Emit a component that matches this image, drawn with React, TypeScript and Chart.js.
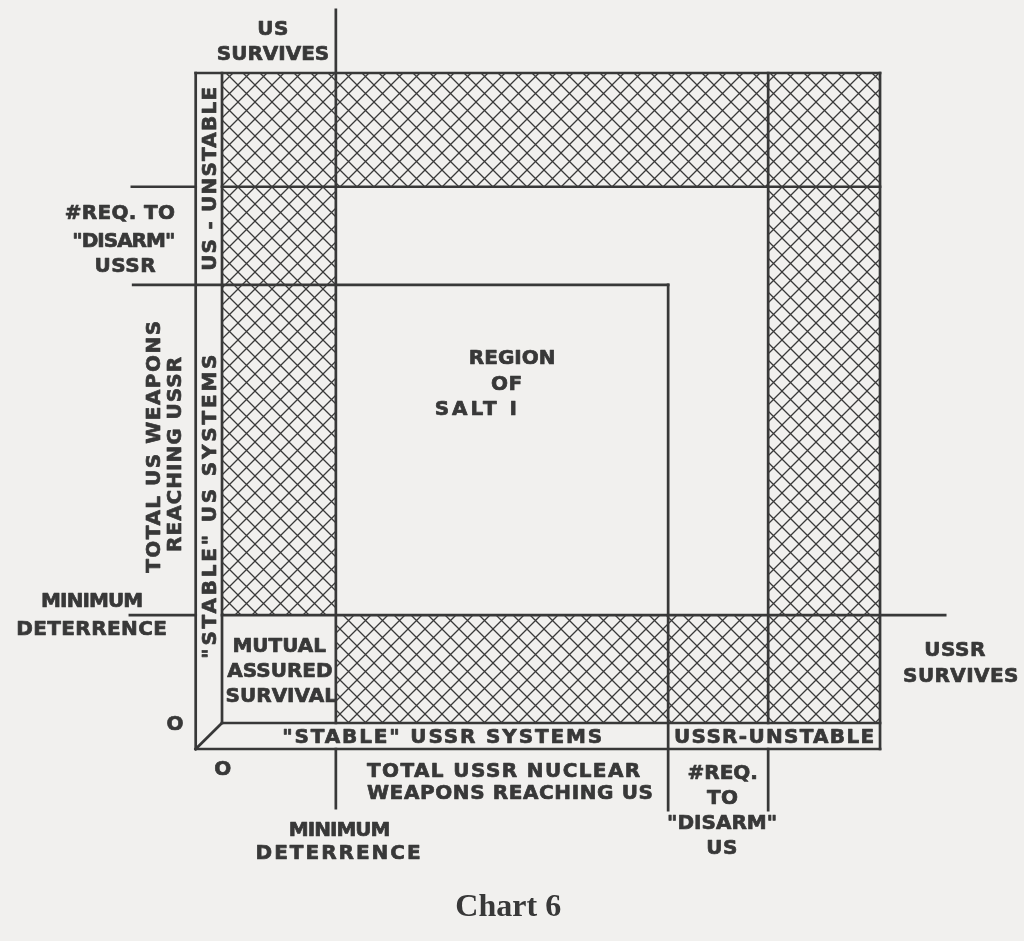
import React, { useEffect, useRef } from "react";
import { Chart, registerables } from "chart.js";

Chart.register(...registerables);

// Thresholds along each axis (0 = origin, 100 = frame edge)
// x: total USSR weapons reaching US
const xOrigin = 0;
const xMinDeterrence = 17.3;
const xSalt = 67.8;
const xDisarmUS = 83;
const xMax = 100;
// y: total US weapons reaching USSR
const yOrigin = 0;
const yMinDeterrence = 16.6;
const ySalt = 67.4;
const yDisarmUSSR = 82.5;
const yMax = 100;
// depth of the "stable systems" strips
const stripDepth = -4;

// extents of the guide lines outside the frame
const guideTop = 109.7;
const guideBottomMin = -13.1;
const guideBottom = -13.4;
const guideLeft = [-13.7, -13.5, -14.0];
const guideRight = 109.9;

const INK = "#383838";
const PAPER = "#f1f0ee";

type Label = { text: string; x: number; y: number; rot?: boolean; ls?: number; serif?: boolean };

const labels: Label[] = [
  { text: "US", x: 7.75, y: 106.9 },
  { text: "SURVIVES", x: 7.75, y: 103.1, ls: 0 },
  { text: "#REQ. TO", x: -15.5, y: 78.6, ls: 0.3 },
  { text: "\"DISARM\"", x: -15.0, y: 74.3, ls: -1 },
  { text: "USSR", x: -14.7, y: 70.5 },
  { text: "MINIMUM", x: -19.8, y: 18.9, ls: -0.9 },
  { text: "DETERRENCE", x: -19.8, y: 14.6, ls: 0.4 },
  { text: "TOTAL US WEAPONS", x: -10.6, y: 42.6, rot: true, ls: 1.5 },
  { text: "REACHING USSR", x: -7.4, y: 41.4, rot: true, ls: 1 },
  { text: "US - UNSTABLE", x: -2.0, y: 83.8, rot: true, ls: 1.2 },
  { text: "\"STABLE\" US SYSTEMS", x: -2.0, y: 33.5, rot: true, ls: 2.8 },
  { text: "REGION", x: 44.1, y: 56.3, ls: 0 },
  { text: "OF", x: 43.3, y: 52.3 },
  { text: "SALT I", x: 38.8, y: 48.5, ls: 3 },
  { text: "MUTUAL", x: 8.7, y: 12.0, ls: 0 },
  { text: "ASSURED", x: 8.8, y: 8.15, ls: 0 },
  { text: "SURVIVAL", x: 9.0, y: 4.3, ls: 0 },
  { text: "O", x: -7.1, y: 0 },
  { text: "O", x: 0.15, y: -6.9 },
  { text: "\"STABLE\" USSR SYSTEMS", x: 33.6, y: -2.0, ls: 1.85 },
  { text: "USSR-UNSTABLE", x: 84.0, y: -2.0, ls: 1.3 },
  { text: "TOTAL USSR NUCLEAR", x: 42.9, y: -7.2, ls: 1.4 },
  { text: "WEAPONS REACHING US", x: 43.8, y: -10.6, ls: 0.6 },
  { text: "MINIMUM", x: 17.8, y: -16.2, ls: -1 },
  { text: "DETERRENCE", x: 17.8, y: -19.8, ls: 2 },
  { text: "#REQ.", x: 76.1, y: -7.5, ls: 0 },
  { text: "TO", x: 76.1, y: -11.4 },
  { text: "\"DISARM\"", x: 76.0, y: -15.2, ls: 0 },
  { text: "US", x: 76.0, y: -19.1 },
  { text: "USSR", x: 111.4, y: 11.5 },
  { text: "SURVIVES", x: 112.3, y: 7.4, ls: 0.4 },
  { text: "Chart 6", x: 43.5, y: -28.0, serif: true },
];

type P = { x: number; y: number };
const seg = (x1: number, y1: number, x2: number, y2: number): P[] => [
  { x: x1, y: y1 },
  { x: x2, y: y2 },
];
const rect = (x1: number, x2: number, y1: number, y2: number): P[] => [
  { x: x1, y: y1 },
  { x: x2, y: y1 },
  { x: x2, y: y2 },
  { x: x1, y: y2 },
  { x: x1, y: y1 },
];

function makeHatch(): CanvasPattern | string {
  const n = 17;
  const c = document.createElement("canvas");
  c.width = n;
  c.height = n;
  const g = c.getContext("2d");
  if (!g) return "rgba(0,0,0,0.2)";
  g.strokeStyle = "#3a3a3a";
  g.lineWidth = 1.3;
  g.beginPath();
  g.moveTo(-2, -2);
  g.lineTo(n + 2, n + 2);
  g.moveTo(n + 2, -2);
  g.lineTo(-2, n + 2);
  g.stroke();
  const p = g.createPattern(c, "repeat");
  return p || "rgba(0,0,0,0.2)";
}

export default function App() {
  const ref = useRef<HTMLCanvasElement | null>(null);

  useEffect(() => {
    const canvas = ref.current;
    if (!canvas) return;
    const hatch = makeHatch();

    const hatched = [
      rect(xOrigin, xMax, yDisarmUSSR, yMax),
      rect(xOrigin, xMinDeterrence, yMinDeterrence, yDisarmUSSR),
      rect(xDisarmUS, xMax, yOrigin, yDisarmUSSR),
      rect(xMinDeterrence, xDisarmUS, yOrigin, yMinDeterrence),
    ];

    const lines: P[][] = [
      seg(stripDepth, stripDepth, stripDepth, yMax),
      seg(stripDepth, yMax, xMax, yMax),
      seg(xMax, yMax, xMax, stripDepth),
      seg(xMax, stripDepth, stripDepth, stripDepth),
      seg(xOrigin, yOrigin, xOrigin, yMax),
      seg(xOrigin, yOrigin, xMax, yOrigin),
      seg(stripDepth, stripDepth, xOrigin, yOrigin),
      seg(xMinDeterrence, yOrigin, xMinDeterrence, guideTop),
      seg(xMinDeterrence, stripDepth, xMinDeterrence, guideBottomMin),
      seg(xSalt, ySalt, xSalt, guideBottom),
      seg(xDisarmUS, yMax, xDisarmUS, yOrigin),
      seg(xDisarmUS, stripDepth, xDisarmUS, guideBottom),
      seg(guideLeft[0], yDisarmUSSR, stripDepth, yDisarmUSSR),
      seg(xOrigin, yDisarmUSSR, xMax, yDisarmUSSR),
      seg(guideLeft[1], ySalt, xSalt, ySalt),
      seg(guideLeft[2], yMinDeterrence, stripDepth, yMinDeterrence),
      seg(xOrigin, yMinDeterrence, guideRight, yMinDeterrence),
    ];

    const datasets: any[] = [];
    lines.forEach((d) =>
      datasets.push({
        data: d,
        showLine: true,
        borderColor: INK,
        borderWidth: 2.7,
        borderCapStyle: "square",
        pointRadius: 0,
        fill: false,
        order: 1,
      })
    );
    hatched.forEach((d) =>
      datasets.push({
        data: d,
        showLine: true,
        borderWidth: 0,
        borderColor: "rgba(0,0,0,0)",
        backgroundColor: hatch,
        pointRadius: 0,
        fill: "shape",
        order: 2,
      })
    );

    const paper = {
      id: "paper",
      beforeDraw(chart: any) {
        const { ctx, width, height } = chart;
        ctx.save();
        ctx.fillStyle = PAPER;
        ctx.fillRect(0, 0, width, height);
        ctx.restore();
      },
    };

    const text = {
      id: "labels",
      afterDatasetsDraw(chart: any) {
        const { ctx } = chart;
        const xs = chart.scales.x;
        const ys = chart.scales.y;
        labels.forEach((l) => {
          const px = xs.getPixelForValue(l.x);
          const py = ys.getPixelForValue(l.y);
          ctx.save();
          ctx.fillStyle = INK;
          ctx.strokeStyle = INK;
          ctx.lineJoin = "round";
          ctx.textAlign = "center";
          ctx.textBaseline = "alphabetic";
          let size = 20;
          if (l.serif) {
            size = 32;
            ctx.font = `bold ${size}px "Liberation Serif", serif`;
            (ctx as any).letterSpacing = "0px";
          } else {
            ctx.font = `bold ${size}px "DejaVu Sans", sans-serif`;
            (ctx as any).letterSpacing = `${l.ls ?? 0.5}px`;
          }
          ctx.translate(px, py);
          if (l.rot) ctx.rotate(-Math.PI / 2);
          const cap = l.serif ? size * 0.33 : size * 0.365;
          ctx.fillText(l.text, 0, cap);
          if (!l.serif) {
            ctx.lineWidth = 0.7;
            ctx.strokeText(l.text, 0, cap);
          }
          ctx.restore();
        });
      },
    };

    const chart = new Chart(canvas, {
      type: "scatter",
      data: { datasets },
      options: {
        animation: false,
        responsive: false,
        devicePixelRatio: 1,
        layout: { padding: 0 },
        plugins: { legend: { display: false }, tooltip: { enabled: false } },
        scales: {
          x: { type: "linear", display: false, min: -33.74, max: 121.88 },
          y: { type: "linear", display: false, min: -33.54, max: 111.23 },
        },
      },
      plugins: [paper, text],
    } as any);

    return () => chart.destroy();
  }, []);

  return (
    <div style={{ position: "absolute", left: 0, top: 0, width: 1024, height: 941 }}>
      <canvas ref={ref} width={1024} height={941} style={{ width: 1024, height: 941, display: "block" }} />
    </div>
  );
}
